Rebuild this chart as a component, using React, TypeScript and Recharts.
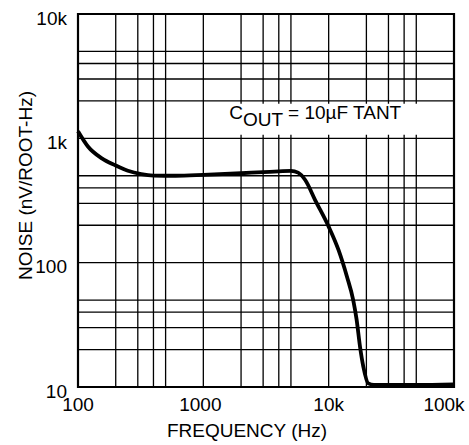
import { LineChart, Line, XAxis, YAxis, CartesianGrid, ReferenceArea } from 'recharts';

// frequency (Hz) vs output noise (nV/root-Hz)
const freq = [
  100, 120, 155, 200, 250, 320, 400, 600, 1000, 2000, 3000, 4000, 5000, 5700, 6500,
  7800, 10000, 12000, 14000, 15700, 16700, 17800, 18900, 20700, 23000, 30000, 50000, 100000,
];
const noise = [
  1140, 860, 690, 605, 548, 515, 502, 500, 508, 524, 535, 542, 547, 530, 462,
  319, 195, 126, 77, 50, 35, 21, 14.6, 10.7, 10.4, 10.4, 10.4, 10.5,
];

const xTicks = [
  100, 200, 300, 400, 500, 1000, 2000, 3000, 4000, 5000,
  10000, 20000, 30000, 40000, 50000, 100000,
];
const yTicks = [
  10, 20, 30, 40, 50, 100, 200, 300, 400, 500,
  1000, 2000, 3000, 4000, 5000, 10000,
];
const xLabels: Record<number, string> = { 100: '100', 1000: '1000', 10000: '10k', 100000: '100k' };
const yLabels: Record<number, string> = { 10: '10', 100: '100', 1000: '1k', 10000: '10k' };

const data = freq.map((f, i) => ({ f, n: noise[i] }));

const FONT = '"Liberation Sans", Arial, sans-serif';
const FS = 19;

function XTick({ x, y, payload }: any) {
  const label = xLabels[payload.value];
  if (!label) return null;
  const dx = payload.value === 100000 ? -10 : payload.value === 1000 ? -3 : 0;
  return (
    <text x={x + dx} y={y} dy="0.71em" textAnchor="middle" fontSize={FS} fontFamily={FONT} fill="#000">
      {label}
    </text>
  );
}

function YTick({ x, y, payload }: any) {
  const label = yLabels[payload.value];
  if (!label) return null;
  return (
    <text x={x} y={y + 4} dy="0.355em" textAnchor="end" fontSize={FS} fontFamily={FONT} fill="#000">
      {label}
    </text>
  );
}

function Annotation({ viewBox }: any) {
  if (!viewBox) return null;
  return (
    <text x={viewBox.x + 16} y={viewBox.y + 15} fontSize={FS} fontFamily={FONT} fill="#000">
      <tspan>C</tspan>
      <tspan dy={7}>OUT</tspan>
      <tspan dy={-7}> = 10µF TANT</tspan>
    </text>
  );
}

export default function App() {
  return (
    <div style={{ position: 'absolute', left: 0, top: 0, width: 469, height: 445, background: '#fff' }}>
      <LineChart width={469} height={445} data={data} margin={{ top: 14, right: 15, bottom: 0, left: 0 }}>
        <CartesianGrid stroke="#000" strokeWidth={1.3} />
        <XAxis
          dataKey="f"
          type="number"
          scale="log"
          domain={[100, 100000]}
          ticks={xTicks}
          interval={0}
          height={58}
          axisLine={false}
          tickLine={false}
          tickSize={0}
          tickMargin={11}
          tick={<XTick />}
          label={{
            content: ({ viewBox }: any) => (
              <text
                x={viewBox.x + viewBox.width / 2 - 19}
                y={viewBox.y + viewBox.height - 8}
                textAnchor="middle"
                fontSize={FS}
                fontFamily={FONT}
                fill="#000"
              >
                FREQUENCY (Hz)
              </text>
            ),
          }}
        />
        <YAxis
          type="number"
          scale="log"
          domain={[10, 10000]}
          ticks={yTicks}
          interval={0}
          width={78}
          axisLine={false}
          tickLine={false}
          tickSize={0}
          tickMargin={11}
          tick={<YTick />}
          label={{
            content: ({ viewBox }: any) => {
              const cx = viewBox.x + 32;
              const cy = viewBox.y + viewBox.height / 2 - 15;
              return (
                <text
                  transform={`translate(${cx},${cy}) rotate(-90)`}
                  textAnchor="middle"
                  fontSize={FS}
                  fontFamily={FONT}
                  fill="#000"
                >
                  NOISE (nV/ROOT-Hz)
                </text>
              );
            },
          }}
        />
        <ReferenceArea
          x1={1200}
          x2={65000}
          y1={1070}
          y2={1900}
          fill="#fff"
          fillOpacity={1}
          stroke="none"
          label={<Annotation />}
        />
        <ReferenceArea x1={100} x2={100000} y1={10} y2={10000} fill="none" stroke="#000" strokeWidth={2.2} />
        <Line
          dataKey="n"
          type="monotone"
          stroke="#000"
          strokeWidth={3.8}
          dot={false}
          isAnimationActive={false}
        />
      </LineChart>
    </div>
  );
}
